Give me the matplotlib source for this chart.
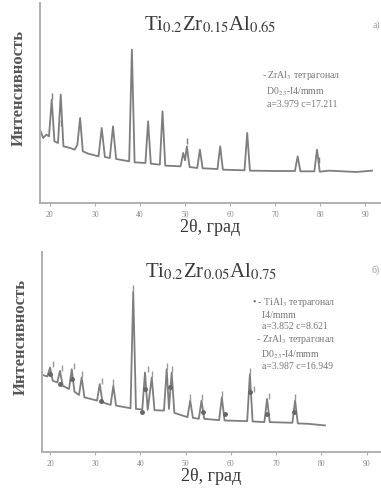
import matplotlib
matplotlib.use("Agg")
import matplotlib.pyplot as plt

plt.rcParams['font.family'] = ['Liberation Serif', 'DejaVu Serif']
plt.rcParams['mathtext.fontset'] = 'stix'

# ---- Panel a) data (2theta, intensity a.u.) ----
top_x = [17.8, 18.5, 19.2, 19.8, 20.4, 21.0, 21.8, 22.4, 23.0, 24.5, 25.5, 26.1, 26.7, 27.3,
         28.5, 30.8, 31.5, 32.2, 33.3, 34.0, 34.7, 37.6, 38.2, 38.8, 41.2, 41.8, 42.4,
         44.4, 45.0, 45.6, 49.0, 49.6, 50.0, 50.4, 51.0, 52.7, 53.3, 53.9, 57.2, 57.8,
         58.4, 63.2, 63.8, 64.4, 70.0, 74.4, 75.0, 75.6, 78.7, 79.3, 79.9, 82.0, 85.0,
         88.0, 91.5]
top_y = [220, 195, 205, 200, 310, 185, 180, 325, 170, 165, 160, 175, 255, 155,
         148, 140, 225, 138, 135, 230, 132, 125, 460, 122, 120, 245, 118,
         115, 275, 112, 110, 150, 128, 170, 108, 105, 160, 104, 102, 170,
         100, 98, 210, 97, 96, 96, 140, 95, 95, 160, 94, 97, 95,
         93, 97]

# ---- Panel b) data ----
bot_x = [17.8, 19.4, 20.0, 20.6, 21.6, 22.2, 22.8, 24.2, 24.8, 25.4, 26.4, 27.0, 27.6,
         30.4, 31.0, 31.6, 33.4, 34.0, 34.6, 37.8, 38.4, 39.0, 40.4, 41.0, 41.6, 42.5,
         43.1, 45.2, 45.8, 46.3, 46.9, 47.5, 50.4, 51.0, 51.6, 52.9, 53.5, 54.1, 57.4,
         58.0, 58.6, 63.6, 64.2, 64.8, 67.4, 68.0, 68.6, 73.6, 74.2, 74.8, 77.0, 80.8]
bot_y = [235, 228, 255, 215, 210, 245, 200, 190, 250, 182, 172, 225, 165,
         155, 205, 150, 142, 200, 140, 132, 485, 130, 128, 240, 127, 225,
         126, 125, 250, 130, 240, 118, 105, 155, 103, 100, 155, 100, 96,
         165, 95, 93, 235, 92, 90, 160, 90, 88, 155, 86, 85, 80]

# phase markers (panel b)
tial3_x = [20.0, 22.2, 24.8, 31.2, 40.4, 41.0, 46.5, 53.8, 58.6, 64.2, 68.0, 73.9]
tial3_y = [235, 205, 220, 155, 120, 190, 195, 120, 115, 180, 115, 120]
zral3_x = [20.6, 22.6, 25.3, 27.0, 31.6, 34.0, 38.4, 41.6, 42.5, 45.8, 46.9, 51.0, 53.5,
           58.0, 64.2, 65.0, 68.4, 74.2]
zral3_y = [265, 255, 260, 235, 215, 210, 495, 250, 235, 260, 250, 165, 165,
           175, 245, 190, 170, 165]
# phase markers (panel a)
zr_top_x = [20.4, 22.4, 50.4, 79.8]
zr_top_y = [320, 240, 185, 130]

xticks = [20, 30, 40, 50, 60, 70, 80, 90]
line_color = '#7e7e7e'
text_color = '#3a3a3a'

fig = plt.figure(figsize=(3.81, 4.88), dpi=100)
ax1 = fig.add_axes([0.105, 0.584, 0.895, 0.41])
ax2 = fig.add_axes([0.11, 0.074, 0.89, 0.41])

for ax in (ax1, ax2):
    for s in ('top', 'right'):
        ax.spines[s].set_visible(False)
    for s in ('left', 'bottom'):
        ax.spines[s].set_color('#b0b0b0')
        ax.spines[s].set_linewidth(1.4)
    ax.set_yticks([])
    ax.set_xticks(xticks)
    ax.tick_params(axis='x', colors='#b0b0b0', labelcolor='#888888', labelsize=5.5,
                   length=2.5, width=0.8, pad=3)
    ax.set_ylabel('Интенсивность', fontsize=12, fontweight='bold', color='#555555')
    ax.yaxis.set_label_coords(-0.04, 0.575)
    ax.set_xlabel('2θ, град', fontsize=13, color=text_color, labelpad=0.5)

ax1.plot(top_x, top_y, color=line_color, lw=1.3)
ax1.plot(zr_top_x, zr_top_y, ls='none', marker='|', ms=5, color=line_color)
ax1.set_xlim(17.8, 93.5)
ax1.set_ylim(0, 600)
ax1.text(0.5, 0.89, 'Ti$_{0.2}$Zr$_{0.15}$Al$_{0.65}$', transform=ax1.transAxes,
         fontsize=15, color=text_color, ha='center', va='center')
ax1.text(0.985, 0.89, 'а)', transform=ax1.transAxes, fontsize=7, color='#999999',
         ha='center', va='center')
ax1.text(0.65, 0.57, '- ZrAl$_3$ тетрагонал\n  D0$_{23}$-I4/mmm\n  a=3.979 c=17.211',
         transform=ax1.transAxes, fontsize=7, color='#777777', va='center',
         linespacing=1.35)

ax2.plot(bot_x, bot_y, color=line_color, lw=1.3)
ax2.plot(tial3_x, tial3_y, ls='none', marker='o', ms=2.5, color='#666666')
ax2.plot(zral3_x, zral3_y, ls='none', marker='|', ms=5, color='#999999')
ax2.set_xlim(18.2, 93.2)
ax2.set_ylim(0, 605)
ax2.text(0.5, 0.9, 'Ti$_{0.2}$Zr$_{0.05}$Al$_{0.75}$', transform=ax2.transAxes,
         fontsize=15, color=text_color, ha='center', va='center')
ax2.text(0.985, 0.91, 'б)', transform=ax2.transAxes, fontsize=7, color='#999999',
         ha='center', va='center')
ax2.text(0.62, 0.59, '• - TiAl$_3$ тетрагонал\n    I4/mmm\n    a=3.852 c=8.621\n'
         '  - ZrAl$_3$ тетрагонал\n    D0$_{23}$-I4/mmm\n    a=3.987 c=16.949',
         transform=ax2.transAxes, fontsize=7, color='#777777', va='center',
         linespacing=1.25)

fig.savefig('out.png', dpi=100)
